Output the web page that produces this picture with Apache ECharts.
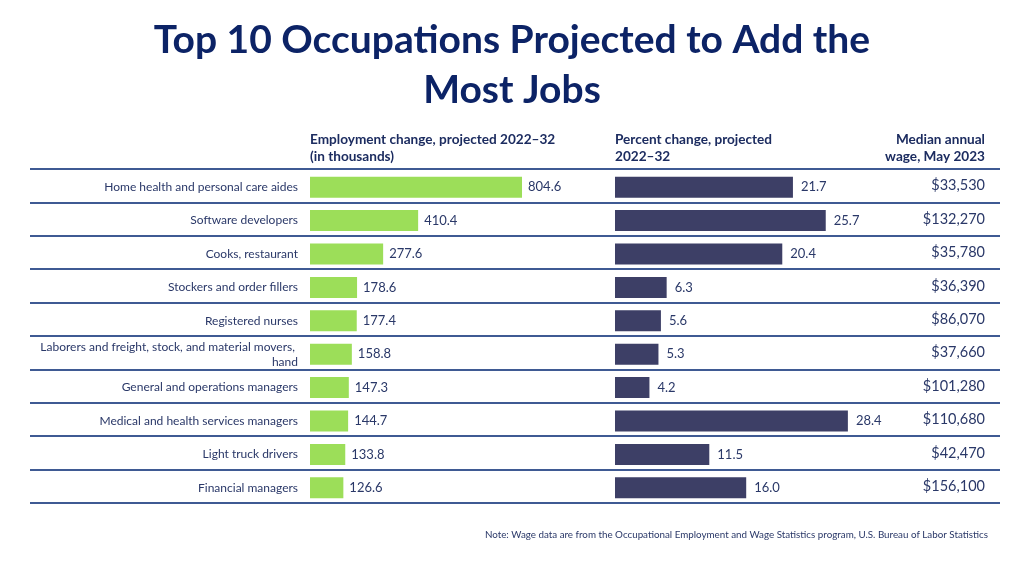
<!DOCTYPE html>
<html>
<head>
<meta charset="utf-8">
<script src="https://cdn.jsdelivr.net/npm/echarts@6/dist/echarts.min.js"></script>
<style>html,body{margin:0;padding:0;background:#fff}#c{width:1024px;height:576px}</style>
</head>
<body>
<div id="c"></div>
<script>
const categories = [
  'Home health and personal care aides',
  'Software developers',
  'Cooks, restaurant',
  'Stockers and order fillers',
  'Registered nurses',
  'Laborers and freight, stock, and material movers, hand',
  'General and operations managers',
  'Medical and health services managers',
  'Light truck drivers',
  'Financial managers'
];
const employmentChange = [804.6, 410.4, 277.6, 178.6, 177.4, 158.8, 147.3, 144.7, 133.8, 126.6];
const percentChange = [21.7, 25.7, 20.4, 6.3, 5.6, 5.3, 4.2, 28.4, 11.5, 16.0];
const medianWage = ['$33,530', '$132,270', '$35,780', '$36,390', '$86,070', '$37,660', '$101,280', '$110,680', '$42,470', '$156,100'];

const FONT = 'Lato, "Open Sans", sans-serif';
const NAVY = '#0c2366';
const TEXT = '#2a3868';
const HEAD = '#1c2c60';
const LINE = '#3f5a93';
const GREEN = '#9cde59';
const BAR2 = '#3d3f66';

const chart = echarts.init(document.getElementById('c'), null, {renderer: 'canvas'});
const TOP = 169, H = 334;
chart.setOption({
  backgroundColor: '#fff',
  animation: false,
  textStyle: {fontFamily: FONT},
  graphic: [
    {type: 'text', x: 512, y: 15, style: {text: 'Top 10 Occupations Projected to Add the\nMost Jobs', font: 'bold 39px ' + FONT, fill: NAVY, lineHeight: 50, align: 'center', verticalAlign: 'top'}},
    {type: 'text', x: 310, y: 131, style: {text: 'Employment change, projected 2022\u201332\n(in thousands)', font: 'bold 13.6px ' + FONT, fill: HEAD, lineHeight: 17, align: 'left', verticalAlign: 'top'}},
    {type: 'text', x: 615, y: 131, style: {text: 'Percent change, projected\n2022\u201332', font: 'bold 13.6px ' + FONT, fill: HEAD, lineHeight: 17, align: 'left', verticalAlign: 'top'}},
    {type: 'text', x: 985, y: 131, style: {text: 'Median annual\nwage, May 2023', font: 'bold 13.6px ' + FONT, fill: HEAD, lineHeight: 17, align: 'right', verticalAlign: 'top'}},
    {type: 'text', x: 988, y: 530, style: {text: 'Note: Wage data are from the Occupational Employment and Wage Statistics program, U.S. Bureau of Labor Statistics', font: '9.8px ' + FONT, fill: TEXT, align: 'right', verticalAlign: 'top'}}
  ],
  grid: [
    {left: 30, right: 24, top: TOP, height: H},
    {left: 310, width: 263.5, top: TOP + 1.5, height: H},
    {left: 615, width: 328, top: TOP + 1.5, height: H}
  ],
  xAxis: [
    {gridIndex: 0, type: 'value', min: 0, max: 1, show: false},
    {gridIndex: 1, type: 'value', min: 0, max: 1000, show: false},
    {gridIndex: 2, type: 'value', min: 0, max: 40, show: false}
  ],
  yAxis: [
    {gridIndex: 0, type: 'category', data: medianWage, inverse: true, position: 'right',
     axisLine: {show: false}, axisTick: {show: false},
     splitLine: {show: true, lineStyle: {color: LINE, width: 2}},
     axisLabel: {inside: true, margin: 15, color: TEXT, fontSize: 14.5, fontFamily: FONT}},
    {gridIndex: 1, type: 'category', data: categories, inverse: true,
     axisLine: {show: false}, axisTick: {show: false}, splitLine: {show: false},
     axisLabel: {margin: 12, color: TEXT, fontSize: 12, fontFamily: FONT, width: 268, overflow: 'break', lineHeight: 15, align: 'right'}},
    {gridIndex: 2, type: 'category', data: categories, inverse: true, show: false}
  ],
  series: [
    {type: 'bar', xAxisIndex: 1, yAxisIndex: 1, data: employmentChange, barWidth: 21,
     itemStyle: {color: GREEN},
     label: {show: true, position: 'right', distance: 6, color: TEXT, fontSize: 13, fontFamily: FONT,
             formatter: p => p.value.toFixed(1)}},
    {type: 'bar', xAxisIndex: 2, yAxisIndex: 2, data: percentChange, barWidth: 21,
     itemStyle: {color: BAR2},
     label: {show: true, position: 'right', distance: 8, color: TEXT, fontSize: 13, fontFamily: FONT,
             formatter: p => p.value.toFixed(1)}}
  ]
});
</script>
</body>
</html>
